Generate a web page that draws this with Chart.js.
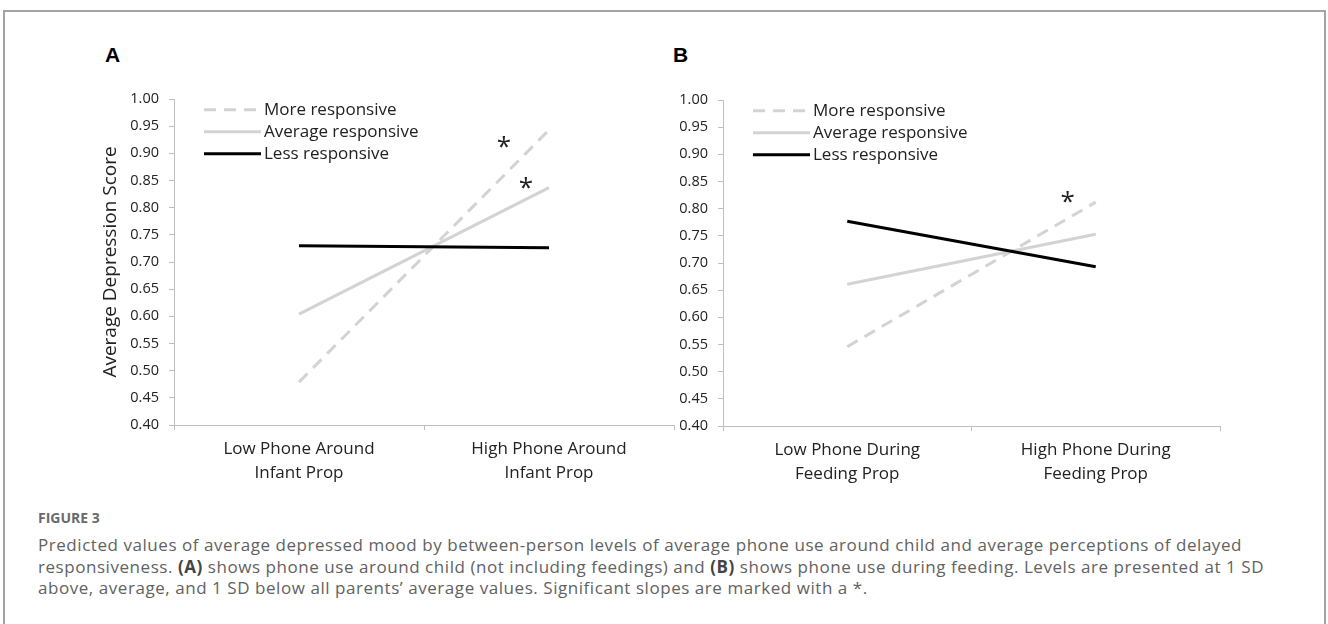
<!DOCTYPE html>
<html>
<head>
<meta charset="utf-8">
<script src="https://cdn.jsdelivr.net/npm/chart.js"></script>
<style>
  body { margin: 0; background: #fff; width: 1328px; height: 624px; overflow: hidden; position: relative; font-family: "Open Sans", sans-serif; }
  #frame { position: absolute; left: 3px; top: 10px; width: 1319px; height: 700px; border: 2px solid #a3a3a3; }
  canvas { position: absolute; top: 0; }
  .panel { position: absolute; top: 44px; font: bold 21px "Liberation Sans", Arial, sans-serif; line-height: 21px; color: #000; }
  #figlabel { position: absolute; left: 38px; top: 509px; font-size: 14px; font-weight: 700; color: #6a6a6a; line-height: 18px; }
  #caption { position: absolute; left: 38px; top: 534px; font-size: 17px; letter-spacing: 0.55px; color: #626262; line-height: 21.5px; white-space: nowrap; }
  #caption b { color: #444; }
</style>
</head>
<body>
<div id="frame"></div>
<div class="panel" style="left:105px">A</div>
<div class="panel" style="left:673px">B</div>
<canvas id="chartA" width="680" height="500" style="left:0"></canvas>
<canvas id="chartB" width="648" height="500" style="left:680px"></canvas>
<div id="figlabel">FIGURE 3</div>
<div id="caption">Predicted values of average depressed mood by between-person levels of average phone use around child and average perceptions of delayed<br>responsiveness. <b>(A)</b> shows phone use around child (not including feedings) and <b>(B)</b> shows phone use during feeding. Levels are presented at 1 SD<br>above, average, and 1 SD below all parents’ average values. Significant slopes are marked with a *.</div>
<script>
// categories
const categoriesA = [['Low Phone Around', 'Infant Prop'], ['High Phone Around', 'Infant Prop']];
const categoriesB = [['Low Phone During', 'Feeding Prop'], ['High Phone During', 'Feeding Prop']];
const seriesNames = ['More responsive', 'Average responsive', 'Less responsive'];

// panel A values (low, high)
const moreA = [0.479, 0.943];
const avgA = [0.604, 0.837];
const lessA = [0.730, 0.726];

// panel B values (low, high)
const moreB = [0.546, 0.812];
const avgB = [0.661, 0.753];
const lessB = [0.777, 0.693];

// y axis
const yMin = 0.40;
const yMax = 1.00;
const yStep = 0.05;
const yTitle = 'Average Depression Score';

// significance stars: [category position, value]
const starsA = [[0.82, 0.926], [0.908, 0.851]];
const starsB = [[0.887, 0.826]];

const axisColor = '#bfbfbf';
const grayLine = '#d3d3d3';
const textColor = '#222';

Chart.defaults.font.family = '"Open Sans", sans-serif';

// legend drawn inside the plot, top left
const innerLegend = {
    id: 'innerLegend',
    afterDraw(chart) {
        const ctx = chart.ctx;
        const area = chart.chartArea;
        ctx.save();
        chart.data.datasets.forEach((ds, i) => {
            const y = area.top + 10.7 + i * 22;
            ctx.beginPath();
            ctx.strokeStyle = ds.borderColor;
            ctx.lineWidth = ds.borderWidth;
            ctx.setLineDash(ds.borderDash || []);
            ctx.moveTo(area.left + 30, y);
            ctx.lineTo(area.left + 87, y);
            ctx.stroke();
            ctx.setLineDash([]);
            ctx.fillStyle = textColor;
            ctx.font = '17px "Open Sans", sans-serif';
            ctx.textBaseline = 'middle';
            ctx.textAlign = 'left';
            ctx.fillText(ds.label, area.left + 90, y);
        });
        ctx.restore();
    }
};

// asterisks for significant slopes
const starMarks = {
    id: 'starMarks',
    afterDraw(chart, args, opts) {
        const ctx = chart.ctx;
        const size = 26;
        ctx.save();
        ctx.fillStyle = textColor;
        ctx.font = size + 'px "Open Sans", sans-serif';
        ctx.textAlign = 'center';
        ctx.textBaseline = 'alphabetic';
        (opts.points || []).forEach(p => {
            const x = chart.scales.x.getPixelForValue(p[0]);
            const y = chart.scales.y.getPixelForValue(p[1]);
            ctx.fillText('*', x, y + size * 0.6);
        });
        ctx.restore();
    }
};

function makePanel(id, labels, more, avg, less, stars, lay) {
    const ctx = document.getElementById(id).getContext('2d');
    return new Chart(ctx, {
        type: 'line',
        data: {
            labels: labels,
            datasets: [
                { label: seriesNames[0], data: more, borderColor: grayLine, borderWidth: 3, borderDash: [12, 8], pointRadius: 0, order: 1 },
                { label: seriesNames[1], data: avg, borderColor: grayLine, borderWidth: 3, pointRadius: 0, order: 1 },
                { label: seriesNames[2], data: less, borderColor: '#000', borderWidth: 3, pointRadius: 0, order: 0 }
            ]
        },
        options: {
            responsive: false,
            animation: false,
            devicePixelRatio: 1,
            layout: { padding: { left: lay.padLeft, right: lay.padRight, top: lay.top, bottom: 0 } },
            plugins: {
                legend: { display: false },
                tooltip: { enabled: false },
                starMarks: { points: stars }
            },
            scales: {
                x: {
                    offset: true,
                    grid: { offset: true, drawOnChartArea: false, drawTicks: true, tickLength: 5, color: axisColor },
                    border: { color: axisColor, width: 1 },
                    ticks: { color: textColor, padding: 7, maxRotation: 0, font: { size: 17, lineHeight: 1.42 } },
                    afterFit: scale => { scale.height = lay.xHeight; }
                },
                y: {
                    min: yMin,
                    max: yMax,
                    grid: { drawOnChartArea: false, drawTicks: true, tickLength: 5, color: axisColor },
                    border: { color: axisColor, width: 1 },
                    ticks: { stepSize: yStep, color: textColor, padding: 10, font: { size: 14.5 }, callback: v => v.toFixed(2) },
                    title: { display: lay.showTitle, text: yTitle, color: textColor, font: { size: 19 }, padding: 2 },
                    afterFit: scale => { scale.width = lay.yWidth; }
                }
            }
        },
        plugins: [innerLegend, starMarks]
    });
}

makePanel('chartA', categoriesA, moreA, avgA, lessA, starsA,
    { padLeft: 97, padRight: 6, top: 99, xHeight: 75, yWidth: 77, showTitle: true });
makePanel('chartB', categoriesB, moreB, avgB, lessB, starsB,
    { padLeft: 0, padRight: 108, top: 100, xHeight: 74, yWidth: 43, showTitle: false });
</script>
</body>
</html>
